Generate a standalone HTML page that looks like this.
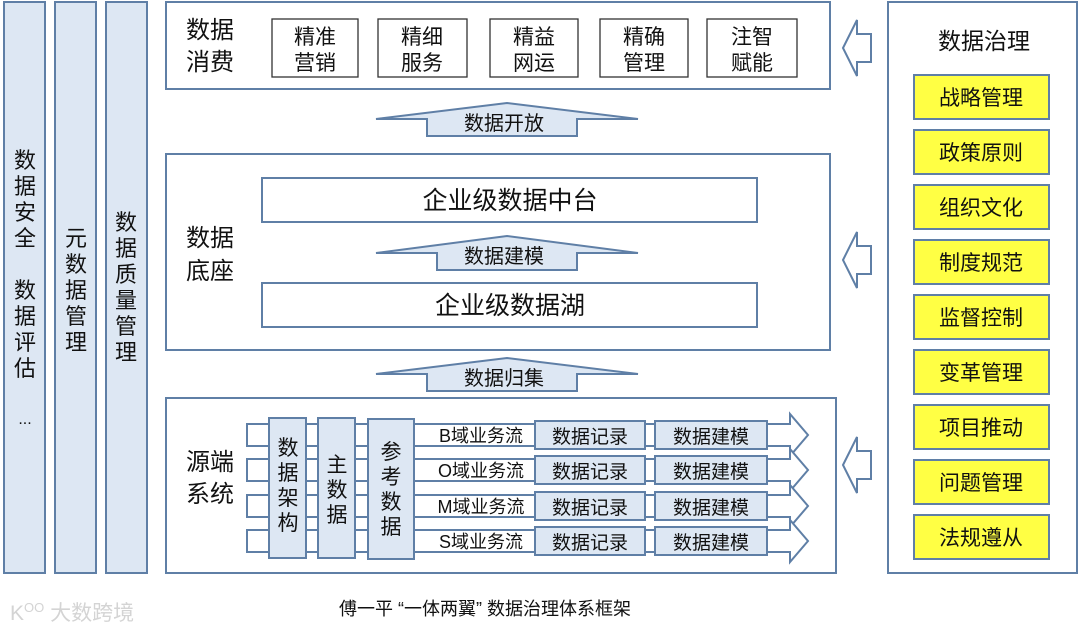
<!DOCTYPE html>
<html><head><meta charset="utf-8"><style>
html,body{margin:0;padding:0;background:#fff;}
svg{display:block;}
text{font-family:"Liberation Sans","Noto Sans CJK SC",sans-serif;fill:#111;}
</style></head><body>
<svg width="1080" height="634" viewBox="0 0 1080 634" xmlns="http://www.w3.org/2000/svg">
<g stroke="#5f7fa6" stroke-width="2">
<rect x="4" y="2" width="41" height="571" fill="#dde7f3"/>
<rect x="55" y="2" width="41" height="571" fill="#dde7f3"/>
<rect x="106" y="2" width="41" height="571" fill="#dde7f3"/>
<rect x="166" y="2" width="664" height="87" fill="#fff"/>
<rect x="166" y="154" width="664" height="196" fill="#fff"/>
<rect x="166" y="398" width="670" height="175" fill="#fff"/>
<rect x="888" y="2" width="189" height="571" fill="#fff"/>
<rect x="262" y="178" width="495" height="44" fill="#fff"/>
<rect x="262" y="283" width="495" height="44" fill="#fff"/>
<path d="M376 119 L507 103 L638 119 L577 119 L577 136 L427 136 L427 119 Z" fill="#dde7f3"/>
<path d="M376 253 L507 236 L638 253 L577 253 L577 270 L437 270 L437 253 Z" fill="#dde7f3"/>
<path d="M376 374 L507 358 L638 374 L577 374 L577 391 L427 391 L427 374 Z" fill="#dde7f3"/>
<path d="M843 48 L857 20 L857 34 L871 34 L871 62 L857 62 L857 76 Z" fill="#fff"/>
<path d="M843 260 L857 232 L857 246 L871 246 L871 274 L857 274 L857 288 Z" fill="#fff"/>
<path d="M843 465 L857 437 L857 451 L871 451 L871 479 L857 479 L857 493 Z" fill="#fff"/>
<g fill="#ffff44">
<rect x="914" y="75" width="135" height="44"/>
<rect x="914" y="130" width="135" height="44"/>
<rect x="914" y="185" width="135" height="44"/>
<rect x="914" y="240" width="135" height="44"/>
<rect x="914" y="295" width="135" height="44"/>
<rect x="914" y="350" width="135" height="44"/>
<rect x="914" y="405" width="135" height="44"/>
<rect x="914" y="460" width="135" height="44"/>
<rect x="914" y="515" width="135" height="44"/>
</g>
<g fill="#fff">
<path d="M247 424 L790 424 L790 414 L808 435 L790 456 L790 446 L247 446 Z"/>
<path d="M247 459 L790 459 L790 449 L808 470 L790 491 L790 481 L247 481 Z"/>
<path d="M247 495 L790 495 L790 485 L808 506 L790 527 L790 517 L247 517 Z"/>
<path d="M247 530 L790 530 L790 520 L808 541 L790 562 L790 552 L247 552 Z"/>
</g>
<rect x="269" y="418" width="37" height="140" fill="#dde7f3"/>
<rect x="318" y="418" width="37" height="140" fill="#dde7f3"/>
<rect x="368" y="419" width="46" height="140" fill="#dde7f3"/>
<g fill="#dde7f3">
<rect x="535" y="421" width="110" height="28"/><rect x="655" y="421" width="112" height="28"/>
<rect x="535" y="456" width="110" height="28"/><rect x="655" y="456" width="112" height="28"/>
<rect x="535" y="492" width="110" height="28"/><rect x="655" y="492" width="112" height="28"/>
<rect x="535" y="527" width="110" height="28"/><rect x="655" y="527" width="112" height="28"/>
</g>
</g>
<g stroke="#333" stroke-width="1.3" fill="#fff">
<rect x="272" y="19" width="86" height="58"/>
<rect x="378" y="19" width="89" height="58"/>
<rect x="490" y="19" width="88" height="58"/>
<rect x="600" y="19" width="88" height="58"/>
<rect x="707" y="19" width="90" height="58"/>
</g>
<g font-size="24">
<text x="186" y="38">数据</text><text x="186" y="70">消费</text>
<text x="186" y="246">数据</text><text x="186" y="279">底座</text>
<text x="186" y="470">源端</text><text x="186" y="502">系统</text>
</g>
<g font-size="21" text-anchor="middle">
<text x="315" y="44">精准</text><text x="315" y="70">营销</text>
<text x="422" y="44">精细</text><text x="422" y="70">服务</text>
<text x="534" y="44">精益</text><text x="534" y="70">网运</text>
<text x="644" y="44">精确</text><text x="644" y="70">管理</text>
<text x="752" y="44">注智</text><text x="752" y="70">赋能</text>
</g>
<g font-size="20" text-anchor="middle">
<text x="504" y="130">数据开放</text>
<text x="504" y="263">数据建模</text>
<text x="504" y="385">数据归集</text>
</g>
<g font-size="25" text-anchor="middle">
<text x="510" y="209">企业级数据中台</text>
<text x="510" y="314">企业级数据湖</text>
</g>
<text x="984" y="49" font-size="23" text-anchor="middle">数据治理</text>
<g font-size="21" text-anchor="middle">
<text x="981" y="105">战略管理</text>
<text x="981" y="160">政策原则</text>
<text x="981" y="215">组织文化</text>
<text x="981" y="270">制度规范</text>
<text x="981" y="325">监督控制</text>
<text x="981" y="380">变革管理</text>
<text x="981" y="435">项目推动</text>
<text x="981" y="490">问题管理</text>
<text x="981" y="545">法规遵从</text>
</g>
<g font-size="22" text-anchor="middle">
<text x="25" y="168">数</text><text x="25" y="194">据</text><text x="25" y="220">安</text><text x="25" y="246">全</text>
<text x="25" y="298">数</text><text x="25" y="324">据</text><text x="25" y="350">评</text><text x="25" y="376">估</text>
<text x="25" y="424" font-size="16">...</text>
<text x="76" y="246">元</text><text x="76" y="272">数</text><text x="76" y="298">据</text><text x="76" y="324">管</text><text x="76" y="350">理</text>
<text x="126" y="230">数</text><text x="126" y="256">据</text><text x="126" y="282">质</text><text x="126" y="308">量</text><text x="126" y="334">管</text><text x="126" y="360">理</text>
</g>
<g font-size="21" text-anchor="middle">
<text x="288" y="455">数</text><text x="288" y="480">据</text><text x="288" y="505">架</text><text x="288" y="530">构</text>
<text x="337" y="472">主</text><text x="337" y="497">数</text><text x="337" y="522">据</text>
<text x="391" y="459">参</text><text x="391" y="484">考</text><text x="391" y="509">数</text><text x="391" y="534">据</text>
</g>
<g font-size="18" text-anchor="middle">
<text x="481" y="442">B域业务流</text>
<text x="481" y="477">O域业务流</text>
<text x="481" y="513">M域业务流</text>
<text x="481" y="548">S域业务流</text>
</g>
<g font-size="19" text-anchor="middle">
<text x="590" y="443">数据记录</text><text x="711" y="443">数据建模</text>
<text x="590" y="478">数据记录</text><text x="711" y="478">数据建模</text>
<text x="590" y="514">数据记录</text><text x="711" y="514">数据建模</text>
<text x="590" y="549">数据记录</text><text x="711" y="549">数据建模</text>
</g>
<text x="485" y="615" font-size="18" text-anchor="middle">傅一平 “一体两翼” 数据治理体系框架</text>
<text x="10" y="620" font-size="21" style="fill:#d4d4d4">K<tspan font-size="13" dy="-8">OO</tspan><tspan dy="8"> 大数跨境</tspan></text>
</svg>
</body></html>
